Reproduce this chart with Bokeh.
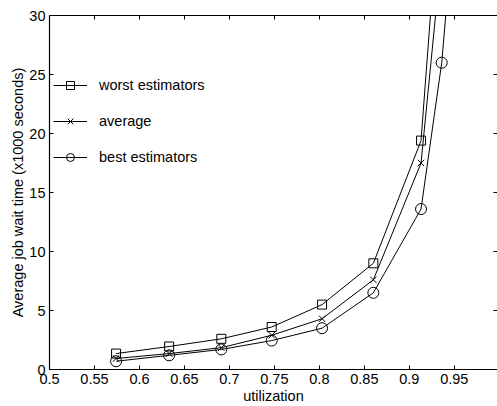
from bokeh.plotting import figure
from bokeh.models import (LinearAxis, FixedTicker, NumeralTickFormatter, Range1d,
                          Legend, LegendItem, CustomJSTickFormatter)
from bokeh.embed import file_html
from bokeh.resources import INLINE

# ---- data ----
utilization = [0.574, 0.633, 0.691, 0.747, 0.803, 0.860, 0.913, 0.936, 0.960]
worst = [1.35, 1.95, 2.6, 3.6, 5.5, 9.0, 19.4, 42.7, 80.0]
average = [0.93, 1.35, 1.85, 2.9, 4.3, 7.6, 17.5, 35.3, 65.0]
best = [0.7, 1.2, 1.7, 2.45, 3.5, 6.5, 13.6, 26.0, 47.5]
series_names = ["worst estimators", "average", "best estimators"]
x_ticks = [0.5, 0.55, 0.6, 0.65, 0.7, 0.75, 0.8, 0.85, 0.9, 0.95]
y_ticks = [0, 5, 10, 15, 20, 25, 30]
x_label = "utilization"
y_label = "Average job wait time (x1000 seconds)"

FONT = "Liberation Sans"
TICK_FS = "14.5px"
LABEL_FS = "14.5px"

p = figure(width=497, height=406, output_backend="svg", toolbar_location=None,
           x_range=Range1d(0.5, 0.998), y_range=Range1d(0, 30),
           min_border_left=49, min_border_right=0, min_border_top=15,
           min_border_bottom=36, x_axis_label=x_label, y_axis_label=y_label)
p.outline_line_color = None
p.grid.visible = False
p.background_fill_color = "white"
p.border_fill_color = "white"

xt = FixedTicker(ticks=x_ticks)
yt = FixedTicker(ticks=y_ticks)

def style_axis(ax, labels=True):
    ax.axis_line_color = "black"
    ax.axis_line_width = 1.2
    ax.major_tick_in = 4
    ax.major_tick_out = 0
    ax.minor_tick_line_color = None
    ax.major_tick_line_color = "black"
    if labels:
        ax.major_label_text_font = FONT
        ax.major_label_text_font_size = TICK_FS
        ax.major_label_text_color = "black"
        ax.axis_label_text_font = FONT
        ax.axis_label_text_font_size = LABEL_FS
        ax.axis_label_text_font_style = "normal"
        ax.axis_label_text_color = "black"
    else:
        ax.formatter = CustomJSTickFormatter(code="return ''")
        ax.major_label_standoff = 0

xa = p.xaxis[0]
xa.ticker = xt
xa.formatter = NumeralTickFormatter(format="0.[00]")
style_axis(xa)
xa.major_label_standoff = 4
xa.axis_label_standoff = 1

ya = p.yaxis[0]
ya.ticker = yt
style_axis(ya)
ya.major_label_standoff = 4
ya.axis_label_standoff = 0

top = LinearAxis(ticker=xt)
style_axis(top, labels=False)
p.add_layout(top, "above")

right = LinearAxis(ticker=yt)
style_axis(right, labels=False)
right.axis_line_color = None
p.add_layout(right, "right")

series = [worst, average, best]
markers = ["square", "x", "circle"]
sizes = [9, 9, 11]
items = []
for name, ys, mk, sz in zip(series_names, series, markers, sizes):
    ln = p.line(utilization, ys, line_color="black", line_width=1)
    sc = p.scatter(utilization, ys, marker=mk, size=sz, line_color="black",
                   fill_color=None, line_width=1)
    items.append(LegendItem(label=name, renderers=[ln, sc]))

legend = Legend(items=items, location=(4, 202))
legend.border_line_color = None
legend.background_fill_color = None
legend.background_fill_alpha = 0
legend.padding = 0
legend.margin = 0
legend.spacing = 16
legend.glyph_width = 34
legend.glyph_height = 20
legend.label_height = 20
legend.label_standoff = 12
legend.label_text_font = FONT
legend.label_text_font_size = LABEL_FS
legend.label_text_color = "black"
p.add_layout(legend, "center")

open("out.html", "w").write(file_html(p, INLINE))
